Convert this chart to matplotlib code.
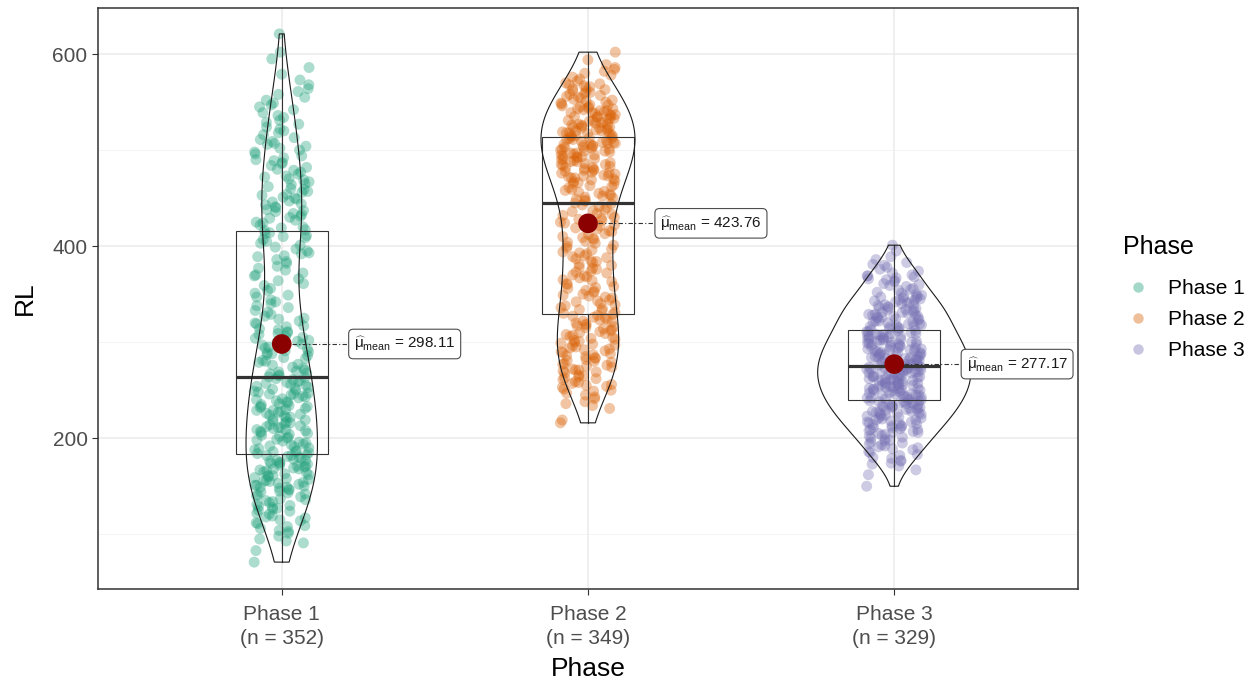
import numpy as np
import matplotlib.pyplot as plt
from matplotlib.lines import Line2D
from matplotlib.patches import Rectangle, Polygon
from matplotlib.ticker import MultipleLocator

plt.rcParams['font.family'] = ['Liberation Sans', 'DejaVu Sans']
plt.rcParams['mathtext.fontset'] = 'custom'
plt.rcParams['mathtext.rm'] = 'Liberation Sans'
plt.rcParams['mathtext.it'] = 'Liberation Sans:italic'

phases = ['Phase 1', 'Phase 2', 'Phase 3']
colors = ['#1B9E77', '#D95F02', '#7570B3']

# RL values per phase
rl_phase1 = [
    71, 83,
    91, 93, 95, 98, 101, 103, 104, 106, 108, 109,
    111, 112, 114, 115, 117, 118, 119, 121, 122, 124, 125, 126, 127, 128, 129,
    130, 131, 133, 134, 135, 136, 137, 139, 140, 141, 142, 143, 144, 145, 146, 147, 148, 149, 149,
    150, 151, 151, 152, 153, 154, 155, 155, 156, 157, 158, 159, 160, 161, 161, 162, 163, 164, 165, 166, 167, 168, 168, 169,
    170, 171, 171, 172, 173, 174, 174, 175, 176, 177, 177, 178, 179, 180, 181, 182, 182, 183, 184, 185, 186, 186, 187, 188, 189,
    190, 191, 192, 193, 194, 195, 196, 197, 198, 199, 200, 201, 202, 203, 204, 205, 206, 207, 208, 209, 209,
    210, 211, 211, 212, 213, 214, 215, 216, 217, 218, 219, 220, 221, 222, 223, 224, 225, 226, 227, 228, 229, 229,
    230, 231, 232, 233, 233, 234, 235, 236, 237, 238, 239, 240, 241, 242, 243, 244, 245, 246, 246, 247, 248, 249,
    250, 251, 252, 253, 254, 255, 256, 257, 258, 259, 260, 261, 262, 263, 264, 265, 266, 267, 268, 269,
    270, 271, 273, 274, 276, 277, 279, 280, 281, 283, 284, 286, 287, 288, 289,
    290, 291, 293, 294, 295, 297, 298, 300, 301, 302, 304, 305, 306, 308, 309,
    310, 311, 313, 314, 316, 317, 319, 320, 322, 324, 325, 327, 329,
    331, 333, 336, 338, 340, 342, 344, 347, 349,
    351, 354, 356, 359, 361, 364, 366, 369,
    370, 372, 375, 377, 379, 382, 384, 386, 389,
    390, 392, 393, 395, 397, 399, 401, 403, 405, 407, 409,
    410, 411, 413, 414, 416, 417, 419, 420, 422, 424, 425, 427, 429,
    430, 431, 433, 434, 436, 437, 438, 440, 441, 443, 444, 446, 447, 449,
    450, 451, 453, 454, 456, 457, 459, 460, 462, 464, 465, 467, 469,
    470, 472, 473, 475, 477, 479, 480, 482, 484, 486, 487, 489,
    490, 492, 494, 496, 498, 500, 502, 504, 506, 507, 509,
    511, 513, 516, 518, 520, 522, 524, 527, 529,
    531, 534, 536, 539, 542, 545, 547, 549,
    552, 555, 558, 561, 564, 568,
    573, 579, 586,
    595, 602,
    621,
]

rl_phase2 = [
    216, 219,
    231, 234, 236, 238, 241, 243, 245, 247, 249,
    250, 251, 253, 254, 255, 256, 257, 258, 259, 261, 262, 263, 264, 265, 266, 268, 269,
    270, 271, 271, 272, 274, 275, 276, 277, 278, 279, 280, 281, 282, 283, 284, 285, 286, 287, 288, 289,
    290, 291, 292, 293, 294, 295, 296, 297, 298, 299, 300, 301, 302, 303, 304, 305, 306, 307, 308, 309,
    310, 311, 312, 313, 314, 315, 316, 317, 318, 319, 320, 321, 322, 323, 324, 325, 326, 327, 328, 329,
    330, 331, 333, 334, 335, 336, 338, 339, 340, 342, 343, 344, 346, 347, 348, 349,
    350, 352, 353, 354, 356, 357, 358, 360, 361, 363, 364, 365, 367, 368, 369,
    370, 372, 373, 374, 376, 377, 378, 380, 381, 383, 384, 385, 387, 388, 389,
    390, 392, 393, 394, 396, 397, 398, 400, 401, 403, 404, 405, 407, 408, 409,
    410, 412, 413, 415, 416, 418, 419, 421, 422, 424, 425, 427, 428, 429,
    430, 432, 433, 434, 436, 437, 438, 440, 441, 443, 444, 445, 447, 448, 449,
    450, 451, 452, 453, 454, 455, 456, 457, 458, 459, 461, 462, 463, 464, 465, 466, 467, 468, 469,
    470, 471, 471, 472, 473, 473, 474, 475, 476, 476, 477, 478, 479, 479, 480, 481, 482, 482, 483, 484,
    485, 485, 486, 487, 488, 488, 489,
    490, 491, 491, 492, 493, 493, 494, 495, 495, 496, 497, 497, 498, 499, 499, 500, 501, 501, 502, 503,
    503, 504, 505, 505, 506, 506, 507, 507, 508, 508, 509,
    510, 511, 511, 512, 512, 513, 514, 514, 515, 515, 516, 517, 517, 518, 518, 519, 520, 520, 521, 521,
    522, 523, 523, 524, 524, 525, 526, 526, 527, 527, 528, 529, 529,
    530, 531, 531, 532, 533, 533, 534, 535, 535, 536, 537, 537, 538, 539, 539, 540, 541, 541, 542, 543,
    543, 544, 545, 545, 546, 547, 547, 548, 549,
    550, 551, 552, 553, 554, 555, 556, 557, 558, 559, 560, 561, 562, 563, 564, 565, 566, 567, 568, 569,
    570, 572, 574, 576, 578, 580, 582, 584, 586, 589,
    594, 602,
]

rl_phase3 = [
    150, 162, 167,
    171, 173, 174, 176, 177, 179, 180, 182, 183, 185, 186, 188, 189,
    190, 191, 192, 193, 194, 195, 196, 197, 198, 199, 200, 201, 202, 203, 204, 205, 206, 206, 207, 208, 209, 209,
    210, 211, 211, 212, 213, 213, 214, 215, 215, 216, 217, 217, 218, 219, 219, 220, 221, 221, 222, 223,
    223, 224, 225, 225, 226, 226, 227, 227, 228, 228, 229,
    230, 230, 231, 231, 232, 232, 233, 233, 234, 234, 235, 235, 236, 236, 237, 237, 238, 238, 239, 239,
    240, 240, 241, 241, 242, 242, 243, 243, 244, 244, 245, 245, 246, 246, 247, 247, 248, 248, 249, 249,
    250, 250, 251, 251, 252, 252, 252, 253, 253, 254, 254, 255, 255, 256, 256, 256, 257, 257, 258, 258,
    259, 259, 260, 260, 260, 261, 261, 262, 262, 263, 263, 264, 264, 264, 265, 265, 266, 266, 267, 267,
    268, 268, 268, 269, 269,
    270, 270, 271, 271, 272, 272, 273, 273, 273, 274, 274, 275, 275, 276, 276, 277, 277, 277, 278, 278,
    279, 279, 280, 280, 281, 281, 281, 282, 282, 283, 283, 284, 284, 285, 285, 285, 286, 286, 287, 287,
    288, 288, 289, 289,
    290, 290, 291, 291, 292, 292, 293, 293, 294, 294, 295, 295, 296, 296, 297, 297, 298, 298, 299, 299,
    300, 300, 301, 301, 302, 302, 303, 303, 304, 304, 305, 305, 306, 306, 307, 307, 308, 308, 309, 309,
    310, 311, 311, 312, 312, 313, 314, 314, 315, 316, 316, 317, 317, 318, 319, 319, 320, 321, 321, 322,
    322, 323, 324, 324, 325, 326, 326, 327, 327, 328, 328, 329, 329,
    330, 331, 331, 332, 333, 334, 334, 335, 336, 336, 337, 338, 339, 339, 340, 341, 341, 342, 343, 344,
    344, 345, 346, 346, 347, 348, 348, 349,
    350, 351, 352, 354, 355, 356, 358, 359, 360, 361, 363, 364, 365, 366, 367, 368, 369, 369,
    370, 372, 374, 376, 378, 380, 381, 383, 386, 389,
    395, 401,
]

# box statistics and means as shown on the chart
q1 = [183.6, 328.9, 240.3]
medians = [263.5, 444.5, 275.7]
q3 = [415.6, 513.5, 313.2]
means = [298.11, 423.76, 277.17]

data = [rl_phase1, rl_phase2, rl_phase3]


def kde(vals):
    v = np.asarray(vals, float)
    n = len(v)
    iqr = np.percentile(v, 75) - np.percentile(v, 25)
    bw = 0.9 * min(v.std(ddof=1), iqr / 1.34) * n ** -0.2
    grid = np.linspace(v.min(), v.max(), 512)
    d = np.exp(-0.5 * ((grid[:, None] - v[None, :]) / bw) ** 2).sum(1)
    return grid, d / (n * bw * np.sqrt(2 * np.pi))


fig = plt.figure(figsize=(12.58, 6.81), dpi=100)
ax = fig.add_axes([0.0779, 0.1351, 0.779, 0.8532])

dens = [kde(v) for v in data]
dmax = max(d.max() for g, d in dens)

for i, vals in enumerate(data):
    x = i + 1
    v = np.asarray(vals, float)
    k = np.arange(len(v))
    # spread points sideways (jitter)
    off = ((k * 0.6180339887 + k * k * 0.4142135624) % 1 - 0.5) * 0.18
    ax.scatter(x + off, v, s=62, color=colors[i], alpha=0.36, edgecolors='none', zorder=2)

    # box + whiskers
    iqr = q3[i] - q1[i]
    lo = v[v >= q1[i] - 1.5 * iqr].min()
    hi = v[v <= q3[i] + 1.5 * iqr].max()
    ax.add_patch(Rectangle((x - 0.15, q1[i]), 0.3, q3[i] - q1[i], fill=False,
                           ec='#333333', lw=0.8, zorder=3))
    ax.plot([x, x], [q3[i], hi], color='#333333', lw=0.8, zorder=3)
    ax.plot([x, x], [lo, q1[i]], color='#333333', lw=0.8, zorder=3)
    ax.plot([x - 0.15, x + 0.15], [medians[i], medians[i]], color='#333333', lw=2.3,
            solid_capstyle='butt', zorder=3)

    # violin
    g, d = dens[i]
    w = 0.25 * d / dmax
    xs = np.concatenate([x - w, (x + w)[::-1]])
    ys = np.concatenate([g, g[::-1]])
    ax.add_patch(Polygon(np.column_stack([xs, ys]), closed=True, fill=False,
                         ec='#1a1a1a', lw=0.8, zorder=3))

    # mean + label
    ax.plot([x, x + 0.22], [means[i], means[i]], color='#333333', lw=0.8,
            dashes=(4, 2, 1, 2), zorder=4)
    ax.scatter([x], [means[i]], s=200, color='#8B0000', edgecolors='none', zorder=5)
    ax.text(x + 0.236, means[i], r'$\widehat{\mathrm{\mu}}_{\mathrm{mean}}$' + ' = %.2f' % means[i],
            ha='left', va='center', fontsize=11, color='#1a1a1a', zorder=6,
            bbox=dict(boxstyle='round,pad=0.35,rounding_size=0.3', fc='white', ec='#4D4D4D', lw=0.8))

ax.set_xlim(0.4, 3.6)
ax.set_ylim(43, 648)
ax.set_xticks([1, 2, 3])
ax.set_xticklabels(['%s\n(n = %d)' % (p, len(v)) for p, v in zip(phases, data)],
                   linespacing=1.35)
ax.yaxis.set_major_locator(MultipleLocator(200))
ax.yaxis.set_minor_locator(MultipleLocator(100))
ax.grid(which='major', color='#EBEBEB', lw=1.1, zorder=0)
ax.grid(which='minor', axis='y', color='#F2F2F2', lw=0.6, zorder=0)
ax.set_axisbelow(True)
for s in ax.spines.values():
    s.set_color('#333333')
    s.set_linewidth(1.1)
ax.tick_params(which='major', length=4, color='#333333', labelsize=15, labelcolor='#4D4D4D')
ax.tick_params(axis='x', pad=7.5)
ax.tick_params(which='minor', length=0)
ax.set_xlabel('Phase', fontsize=19, labelpad=6.5)
ax.set_ylabel('RL', fontsize=19, labelpad=11)

# legend
handles = [Line2D([], [], marker='o', ls='none', color=c, alpha=0.4, markersize=7.5,
                  markeredgewidth=0) for c in colors]
ax.legend(handles, phases, loc='center left', bbox_to_anchor=(1.0506, 0.4639),
          frameon=False, fontsize=15, handletextpad=0.94, labelspacing=0.57,
          borderaxespad=0, borderpad=0, handlelength=1.0)
fig.text(1122.7 / 1258, 1 - 246.7 / 681, 'Phase', fontsize=18, ha='left', va='center')

fig.savefig('out.png', dpi=100)
